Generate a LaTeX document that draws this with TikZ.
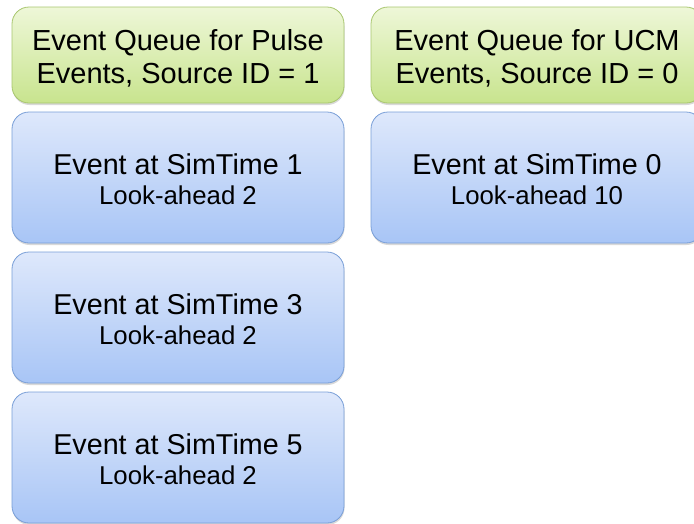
\documentclass[tikz,border=0pt]{standalone}
\usepackage{fontspec}
\setmainfont{Liberation Sans}
\usetikzlibrary{shadows}
\definecolor{gtop}{HTML}{EEF7D8}
\definecolor{gbot}{HTML}{C8E48E}
\definecolor{gline}{HTML}{A8C66E}
\definecolor{btop}{HTML}{DEE8FB}
\definecolor{bbot}{HTML}{A8C5F6}
\definecolor{bline}{HTML}{789ED7}
\tikzset{
  box/.style={rounded corners=17pt, line width=0.8pt, minimum width=332pt, inner sep=0pt,
    drop shadow={shadow xshift=0.5pt,shadow yshift=-2pt,opacity=0.3}},
  qbox/.style={box, draw=gline, top color=gtop, bottom color=gbot, minimum height=96pt},
  ebox/.style={box, draw=bline, top color=btop, bottom color=bbot, minimum height=131pt},
  qtext/.style={anchor=base, inner sep=0pt, font=\fontsize{29}{33}\selectfont},
  etext/.style={anchor=base, inner sep=0pt, font=\fontsize{28.7}{30}\selectfont},
  ltext/.style={anchor=base, inner sep=0pt, font=\fontsize{25.8}{30}\selectfont},
}
\begin{document}
\begin{tikzpicture}[x=1pt,y=-1pt]
\useasboundingbox (0,0) rectangle (694,523);
\clip (0,0) rectangle (694,523);
% queue headers
\node[qbox] (q1) at (178,55) {};
\node[qbox] (q2) at (537,55) {};
\node[qtext] (q1a) at (178,50) {Event Queue for Pulse};
\node[qtext] (q1b) at (178,83) {Events, Source ID = 1};
\node[qtext] (q2a) at (537,50) {Event Queue for UCM};
\node[qtext] (q2b) at (537,83) {Events, Source ID = 0};
% events
\node[ebox] (e1) at (178,177.5) {};
\node[ebox] (e2) at (178,317.5) {};
\node[ebox] (e3) at (178,457.5) {};
\node[ebox] (e4) at (537,177.5) {};
\node[etext] (e1a) at (178,174) {Event at SimTime 1};
\node[ltext] (e1b) at (178,204) {Look-ahead 2};
\node[etext] (e2a) at (178,314) {Event at SimTime 3};
\node[ltext] (e2b) at (178,344) {Look-ahead 2};
\node[etext] (e3a) at (178,454) {Event at SimTime 5};
\node[ltext] (e3b) at (178,484) {Look-ahead 2};
\node[etext] (e4a) at (537,174) {Event at SimTime 0};
\node[ltext] (e4b) at (537,204) {Look-ahead 10};
\end{tikzpicture}
\end{document}
